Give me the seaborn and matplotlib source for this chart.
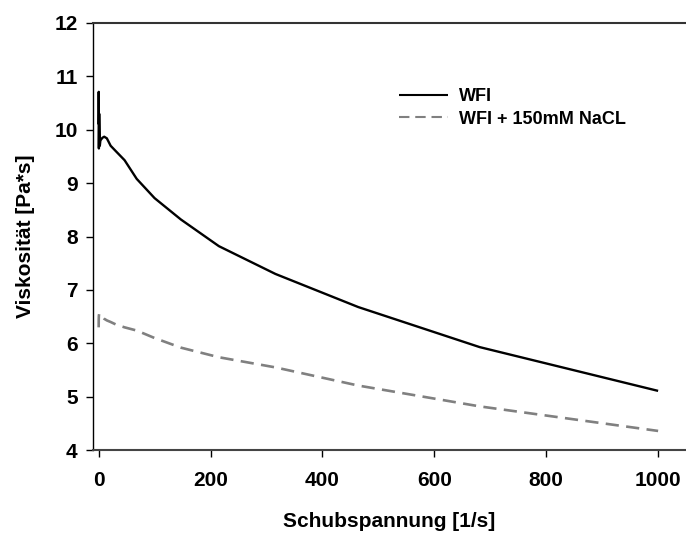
import numpy as np
import pandas as pd
import matplotlib.pyplot as plt
import seaborn as sns

# shear rates (measurement points, log spaced)
shear = [0.1, 0.215, 0.464, 1.0, 2.15, 3.16, 4.64, 6.81, 10.0, 14.7, 21.5, 31.6,
         46.4, 68.1, 100.0, 147.0, 215.0, 316.0, 464.0, 681.0, 1000.0]
visc_wfi = [10.1, 10.71, 9.65, 10.3, 9.7, 9.8, 9.82, 9.85, 9.87, 9.84, 9.70, 9.59,
            9.43, 9.08, 8.72, 8.32, 7.82, 7.30, 6.68, 5.93, 5.11]
visc_nacl = [6.30, 6.45, 6.52, 6.55, 6.54, 6.55, 6.52, 6.50, 6.46, 6.43, 6.40, 6.35,
             6.30, 6.24, 6.10, 5.92, 5.74, 5.55, 5.21, 4.82, 4.36]
labels = ["WFI", "WFI + 150mM NaCL"]

df = pd.concat([
    pd.DataFrame({"x": shear, "y": visc_wfi, "Probe": labels[0]}),
    pd.DataFrame({"x": shear, "y": visc_nacl, "Probe": labels[1]}),
])

sns.set_style("ticks")
plt.rcParams['font.family'] = ['Liberation Sans', 'DejaVu Sans']
plt.rcParams['font.weight'] = 'bold'
plt.rcParams['text.color'] = 'black'
plt.rcParams['axes.labelcolor'] = 'black'
plt.rcParams['xtick.color'] = 'black'
plt.rcParams['ytick.color'] = 'black'

fig = plt.figure(figsize=(6.86, 5.34), dpi=100)
ax = fig.add_axes([0.1356, 0.157, 0.8629, 0.800])

sns.lineplot(data=df, x="x", y="y", hue="Probe", style="Probe",
             palette=["black", "#808080"], dashes=[(1, 0), (5, 2.8)],
             sort=False, estimator=None, ax=ax, legend=True)
for ln, lw in zip(ax.lines, [1.7, 1.9]):
    ln.set_linewidth(lw)

ax.set_xlim(-10, 1048)
ax.set_ylim(4, 12)
ax.set_xticks(range(0, 1001, 200))
ax.set_yticks(range(4, 13, 1))
ax.tick_params(direction="out", length=5, width=1, labelsize=15)
ax.tick_params(axis="x", pad=10)
ax.tick_params(axis="y", pad=6)
for t in ax.get_xticklabels() + ax.get_yticklabels():
    t.set_fontweight("bold")

ax.spines["right"].set_visible(False)
ax.spines["top"].set_color("#333333")
ax.spines["top"].set_linewidth(1.5)
ax.spines["left"].set_color("black")
ax.spines["left"].set_linewidth(1.0)
ax.spines["bottom"].set_color("#444444")
ax.spines["bottom"].set_linewidth(1.5)

ax.set_xlabel("Schubspannung [1/s]", fontsize=15, fontweight="bold", labelpad=16)
ax.set_ylabel("Viskosität [Pa*s]", fontsize=15, fontweight="bold", labelpad=14)

handles, _ = ax.get_legend_handles_labels()
ax.legend(handles, labels, loc="upper left", bbox_to_anchor=(0.49, 0.885),
          frameon=False, handlelength=2.7, handletextpad=0.6,
          labelspacing=0.3, prop={"weight": "bold", "size": 13})

fig.savefig("out.png", dpi=100)
